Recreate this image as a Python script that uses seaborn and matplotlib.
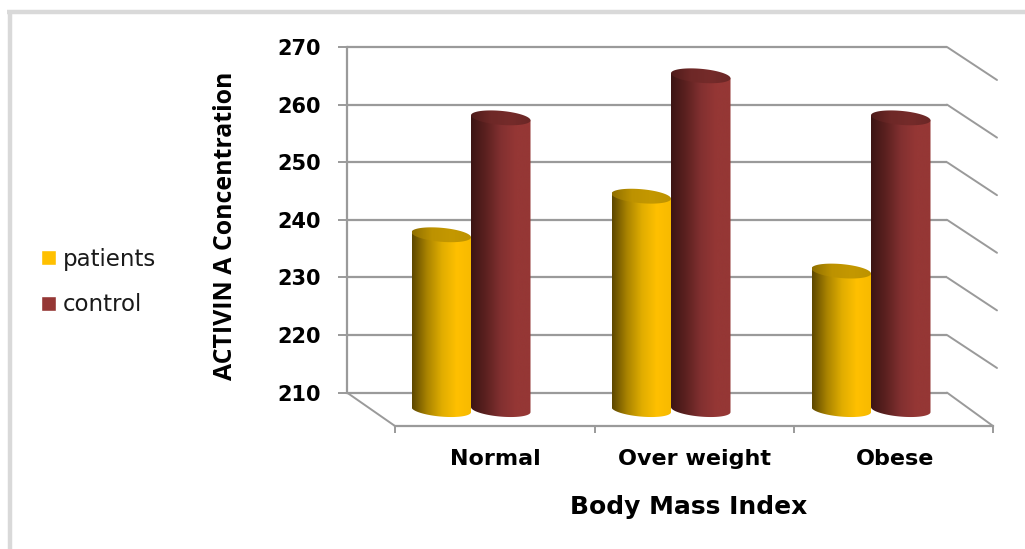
import numpy as np
import pandas as pd
import seaborn as sns
import matplotlib
matplotlib.use('Agg')
import matplotlib.pyplot as plt
from matplotlib.colors import LinearSegmentedColormap
from matplotlib.lines import Line2D
from matplotlib.patches import Polygon

categories = ['Normal', 'Over weight', 'Obese']
groups = ['patients', 'control']
patients = [237.4, 244.1, 231.1]
control = [257.7, 265.0, 257.7]
y_ticks = [210, 220, 230, 240, 250, 260, 270]

colors = {'patients': '#ffc000', 'control': '#953735'}
side_cmaps = {
    'patients': ['#5c4700', '#a98300', '#e0ad00', '#ffc000', '#f7ba00'],
    'control': ['#3c1514', '#5c2120', '#823030', '#953735', '#953735'],
}
top_cmaps = {
    'patients': ['#8f6f00', '#bd9200', '#c49800', '#bd9200'],
    'control': ['#4e1c1b', '#6e2827', '#752b2a', '#6a2726'],
}

W, H = 1025, 549
sns.set_theme(style='white')

df = pd.DataFrame({
    'bmi': categories * 2,
    'group': ['patients'] * 3 + ['control'] * 3,
    'value': patients + control,
})

fig = plt.figure(figsize=(W / 100, H / 100), dpi=100, facecolor='white')
# axes box runs from the back wall left edge to the front floor corner
ax = fig.add_axes([347 / W, 1 - 426 / H, 646 / W, 379 / H])
ax.patch.set_alpha(0)

sns.barplot(data=df, x='bmi', y='value', hue='group', order=categories, saturation=1,
            hue_order=groups, palette=colors, width=0.595, gap=0, ax=ax, errorbar=None)

px_x = 1 / 200      # data per pixel, x
px_y = 10 / 57.6    # data per pixel, y
ax.set_xlim(-0.62, 2.61)
floor = 210 - 33.4 * px_y
ax.set_ylim(floor, 270)

grey = '#9a9a9a'
# back wall, side wall and floor
wall_r = 2.38
ax.hlines(y_ticks, -0.62, wall_r, color=grey, lw=1.6, zorder=1, clip_on=False)
for v in y_ticks[1:]:
    ax.plot([wall_r, wall_r + 50 * px_x], [v, v - 33 * px_y], color=grey, lw=1.4, zorder=1, clip_on=False)
ax.plot([-0.62, -0.38], [210, floor], color=grey, lw=1.4, zorder=1, clip_on=False)
ax.plot([wall_r, 2.61], [210, floor], color=grey, lw=1.4, zorder=1, clip_on=False)

# turn the flat bars from seaborn into cylinders
base = 210 - 17 * px_y
t = np.linspace(0, 2 * np.pi, 120)
for cont, g, z in zip(ax.containers, groups, [4, 3]):
    side = LinearSegmentedColormap.from_list(g + '_side', side_cmaps[g])
    top = LinearSegmentedColormap.from_list(g + '_top', top_cmaps[g])
    for bar in cont:
        bar.set_visible(False)
        left, width, val = bar.get_x(), bar.get_width(), bar.get_height()
        cx = left + width / 2
        a = width / 2
        b = 7 * px_y
        tilt = 2.5 * px_y
        lower = t[(t >= np.pi)]
        xs = cx + a * np.cos(lower)
        ys = base + b * np.sin(lower) - tilt * np.cos(lower)
        body = np.column_stack([
            np.r_[left, xs, left + width],
            np.r_[val + tilt, ys, val - tilt],
        ])
        body = np.vstack([body, [left + width, val - tilt], [left, val + tilt]])
        clip = Polygon(body, transform=ax.transData)
        im = ax.imshow(np.linspace(0, 1, 256)[None, :], cmap=side, aspect='auto', zorder=z,
                       extent=[left, left + width, base - 2, val + 2], interpolation='bilinear')
        im.set_clip_path(clip)
        cap = np.column_stack([cx + a * np.cos(t), val + b * np.sin(t) - tilt * np.cos(t)])
        clip2 = Polygon(cap, transform=ax.transData)
        im2 = ax.imshow(np.linspace(0, 1, 256)[None, :], cmap=top, aspect='auto', zorder=z + 0.1,
                        extent=[left, left + width, val - 2, val + 2], interpolation='bilinear')
        im2.set_clip_path(clip2)

ax.set_xlim(-0.62, 2.61)
ax.set_ylim(floor, 270)

# axes
for s in ['top', 'right']:
    ax.spines[s].set_visible(False)
ax.spines['left'].set_bounds(210, 270)
ax.spines['bottom'].set_bounds(-0.38, 2.61)
for s in ['left', 'bottom']:
    ax.spines[s].set_color(grey)
    ax.spines[s].set_linewidth(1.6)

ax.set_yticks(y_ticks)
ax.set_yticklabels(y_ticks, fontsize=15, fontweight='bold', family='DejaVu Sans', color='black')
ax.tick_params(axis='y', left=True, length=6.5, width=1.4, color=grey, pad=12)
ax.set_xticks([-0.38, 0.62, 1.615, 2.61])
ax.set_xticklabels([])
ax.tick_params(axis='x', which='major', bottom=True, length=5, width=1.4, color=grey)
ax.set_xticks([0.12, 1.12, 2.12], minor=True)
ax.set_xticklabels(categories, minor=True, fontsize=16, fontweight='bold', family='DejaVu Sans', color='black')
ax.tick_params(axis='x', which='minor', bottom=False, length=0, pad=16.5)

ax.set_xlabel('Body Mass Index', fontsize=18, fontweight='bold', family='DejaVu Sans', color='black')
ax.xaxis.set_label_coords((689 - 347) / 646, (426 - 495) / 379)
ax.set_ylabel('ACTIVIN A Concentration', fontsize=17.9, fontweight='bold', family='Open Sans', color='black')
ax.yaxis.set_label_coords((238 - 347) / 646, (426 - 226) / 379)

sns.move_legend(ax, 'center left', bbox_to_anchor=(41 / W, 1 - 282 / H), bbox_transform=fig.transFigure,
                frameon=False, title=None, fontsize=16.5, handlelength=0.66, handleheight=0.66,
                handletextpad=0.3, labelspacing=1.0, borderpad=0, borderaxespad=0)
for txt in ax.get_legend().get_texts():
    txt.set_color('#1a1a1a')

# grey page frame, top and left only
fig.add_artist(Line2D([7 / W, 1], [1 - 12 / H, 1 - 12 / H], color='#d9d9d9', lw=3.2,
                      solid_capstyle='butt', transform=fig.transFigure))
fig.add_artist(Line2D([9.5 / W, 9.5 / W], [0, 1 - 10 / H], color='#d9d9d9', lw=3.2,
                      solid_capstyle='butt', transform=fig.transFigure))

fig.savefig('out.png', dpi=100)
